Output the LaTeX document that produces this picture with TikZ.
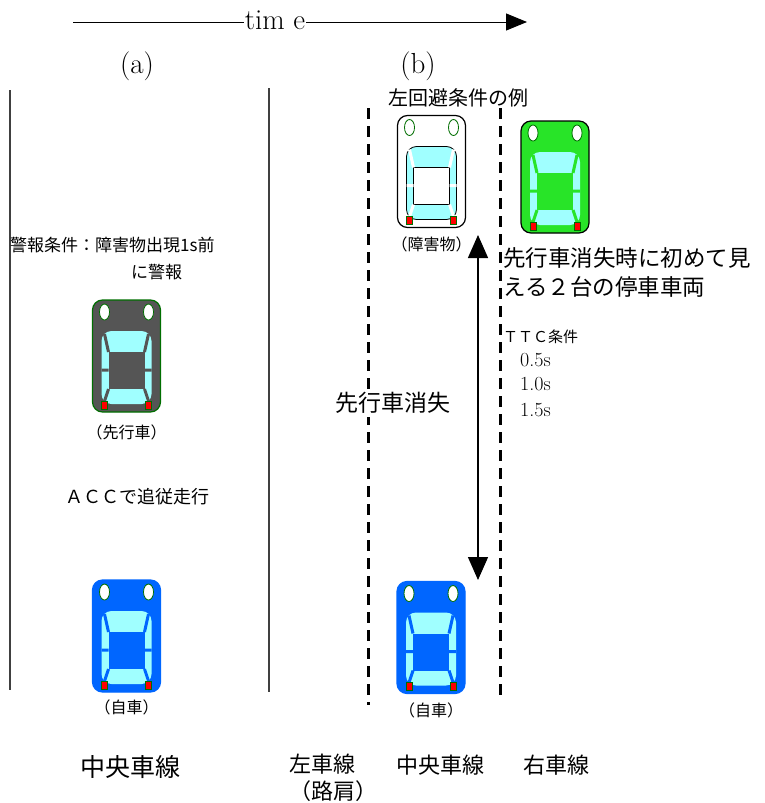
\documentclass[tikz,border=0pt]{standalone}
\usepackage{fontspec}
\usepackage{tikz}
\usetikzlibrary{arrows.meta,positioning}
\newfontfamily\jp{Noto Sans CJK JP}
\definecolor{carblue}{RGB}{0,102,255}
\definecolor{cargray}{RGB}{85,85,85}
\definecolor{cargreen}{RGB}{40,228,40}
\definecolor{glass}{RGB}{160,255,255}
\definecolor{trim}{RGB}{0,110,0}

% one car seen from above, nose up
\tikzset{
  pics/car/.style n args={4}{code={
    \path[fill=#1, draw=#2, line width=1.2pt, rounded corners=10pt] (-34,-56) rectangle (34,56);
    \path[fill=white, draw=#3, line width=0.8pt] (-22,-44) ellipse [x radius=5, y radius=8];
    \path[fill=white, draw=#3, line width=0.8pt] (22,-44) ellipse [x radius=5, y radius=8];
    \path[fill=glass, draw=#4, line width=0.8pt, rounded corners=10pt] (-25,-25) rectangle (25,48);
    \path[fill=#1, draw=#4, line width=0.8pt] (-18,-4) rectangle (18,33);
    \draw[#1, line width=3pt] (-18,-4) -- (-22,-22) (18,-4) -- (22,-22)
      (-18,33) -- (-22,45) (18,33) -- (22,45)
      (-25,14) -- (-18,14) (18,14) -- (25,14);
    \path[fill=red, draw=#3, line width=0.6pt] (-25,45) rectangle (-19,53);
    \path[fill=red, draw=#3, line width=0.6pt] (19,45) rectangle (25,53);
  }}
}

\begin{document}
\begin{tikzpicture}[
  x=1pt, y=-1pt,
  carbox/.style={minimum width=68pt, minimum height=112pt, inner sep=0pt},
  lbl/.style={font=\jp\fontsize{16}{18}\selectfont, inner sep=1pt},
  txt/.style={font=\jp\fontsize{17}{27}\selectfont, inner sep=0pt, align=left},
  lane/.style={font=\jp\fontsize{22}{27}\selectfont, inner sep=0pt, align=left},
  head/.style={font=\fontsize{29}{30}\selectfont, inner sep=1pt},
  ttcval/.style={font=\fontsize{20}{22}\selectfont, anchor=west, inner sep=0pt},
  road/.style={draw=black!75, line width=1.4pt},
  divider/.style={draw=black, line width=3pt, dash pattern=on 11pt off 7pt},
  tarr/.style={-{Triangle[length=21pt, width=17pt]}, line width=1pt},
  dbl/.style={{Triangle[length=23pt, width=20pt]}-{Triangle[length=23pt, width=20pt]}, line width=1.4pt}
]
\useasboundingbox (0,0) rectangle (764,803);

% time axis
\node[head] (time) at (275,20) {tim e};
\coordinate (tstart) at (73,22);
\coordinate (tend) at (527,22);
\draw[line width=1pt] (tstart) -- (time.west |- tstart);
\draw[tarr] (time.east |- tend) -- (tend);

\node[head] (capa) at (137,66) {(a)};
\node[head] (capb) at (418,66) {(b)};

% lane borders
\coordinate (la1) at (10,90);   \coordinate (la2) at (10,690);
\coordinate (lb1) at (269,88);  \coordinate (lb2) at (269,692);
\coordinate (dl1) at (368,108); \coordinate (dl2) at (368,705);
\coordinate (dr1) at (500,108); \coordinate (dr2) at (500,702);
\draw[road] (la1) -- (la2);
\draw[road] (lb1) -- (lb2);
\draw[divider] (dl1) -- (dl2);
\draw[divider] (dr1) -- (dr2);

% (a) following with ACC
\node[carbox] (lead) at (126.5,356) {};
\pic at (lead) {car={cargray}{trim}{trim}{none}};
\node[carbox] (owna) at (126.5,636) {};
\pic at (owna) {car={carblue}{carblue}{trim}{none}};
\node[lbl, below=11pt of lead] (leadlbl) {（先行車）};
\node[lbl, below=6pt of owna] (ownalbl) {（自車）};
\node[txt, anchor=west] (warn) at (10,245) {警報条件：障害物出現1s前};
\node[txt, anchor=west] (warn2) at (131,272) {に警報};
\node[txt, font=\jp\fontsize{18}{20}\selectfont] (acc) at (137,497) {ＡＣＣで追従走行};
\node[lane, font=\jp\fontsize{25}{27}\selectfont] (centera) at (130,767) {中央車線};

% (b) lead car gone
\node[carbox] (obst) at (431.5,171.5) {};
\pic at (obst) {car={white}{black}{trim}{black}};
\node[carbox] (parked) at (555,177) {};
\pic at (parked) {car={cargreen}{black}{trim}{none}};
\node[carbox] (ownb) at (431,637.5) {};
\pic at (ownb) {car={carblue}{carblue}{trim}{none}};
\node[lbl, below=8pt of obst] (obstlbl) {（障害物）};
\node[lbl, below=8pt of ownb] (ownblbl) {（自車）};
\node[txt, font=\jp\fontsize{20}{22}\selectfont] (leftcase) at (458,98) {左回避条件の例};
\node[txt, font=\jp\fontsize{22.5}{29}\selectfont, anchor=west] (seen) at (503,272) {先行車消失時に初めて見\\える２台の停車車両};
\node[txt, font=\jp\fontsize{15}{17}\selectfont, anchor=west] (ttc) at (503,337) {ＴＴＣ条件};
\node[ttcval] (t1) at (520,360) {0.5s};
\node[ttcval] (t2) at (520,384) {1.0s};
\node[ttcval] (t3) at (520,410) {1.5s};
\node[txt, font=\jp\fontsize{23}{25}\selectfont, fill=white, inner sep=3pt] (lost) at (393,403) {先行車消失};

\coordinate (gaptop) at (478,235);
\coordinate (gapbot) at (478,580);
\draw[dbl] (gaptop) -- (gapbot);

\node[lane, align=left] (leftl) at (333,778) {左車線\\（路肩）};
\node[lane] (centerb) at (440,765) {中央車線};
\node[lane] (rightl) at (556,765) {右車線};
\end{tikzpicture}
\end{document}
